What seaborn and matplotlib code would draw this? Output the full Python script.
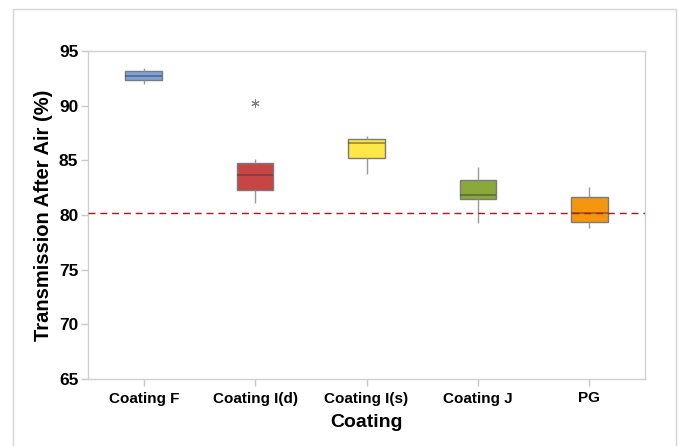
import numpy as np
import pandas as pd
import seaborn as sns
import matplotlib.pyplot as plt
from matplotlib.patches import Rectangle

# Measured transmission after air exposure (%) for each coating
categories = ["Coating F", "Coating I(d)", "Coating I(s)", "Coating J", "PG"]
coating_f = [91.98, 92.37, 92.74, 93.17, 93.44]
coating_id = [81.12, 81.70, 82.26, 82.95, 83.63, 84.20, 84.78, 85.09, 90.27]
coating_is = [83.75, 85.21, 86.56, 86.92, 87.20]
coating_j = [79.29, 81.49, 81.83, 83.17, 84.41]
pg = [78.83, 79.33, 80.15, 81.61, 82.53]
reference_level = 80.2
y_ticks = [65, 70, 75, 80, 85, 90, 95]

box_colors = ["#7BA3DA", "#C84545", "#FFE845", "#8BA83A", "#F5960F"]

series = [coating_f, coating_id, coating_is, coating_j, pg]
df = pd.DataFrame({
    "Coating": [c for c, vals in zip(categories, series) for _ in vals],
    "Transmission": [v for vals in series for v in vals],
})

sns.set_style("white")
plt.rcParams["font.family"] = ["Liberation Sans", "DejaVu Sans"]
plt.rcParams["text.color"] = "black"
plt.rcParams["axes.labelcolor"] = "black"
plt.rcParams["xtick.color"] = "black"
plt.rcParams["ytick.color"] = "black"

fig = plt.figure(figsize=(6.78, 4.46), dpi=100)
ax = fig.add_axes([88 / 678, 1 - 379 / 446, (645 - 88) / 678, (379 - 51) / 446])

sns.boxplot(
    data=df, x="Coating", y="Transmission", hue="Coating",
    order=categories, hue_order=categories, palette=box_colors, saturation=1,
    width=0.33, dodge=False, legend=False, whis=1.5, showcaps=False,
    linewidth=1.0, linecolor="#7A7A7A",
    boxprops=dict(edgecolor="#7A7A7A"),
    whiskerprops=dict(color="#9A9A9A", linewidth=1.0),
    medianprops=dict(color="#3A3A3A", alpha=0.55, linewidth=1.2),
    flierprops=dict(marker=(6, 2, 0), markersize=6, markeredgecolor="#808080",
                    markerfacecolor="none", markeredgewidth=0.7),
    ax=ax,
)

ax.axhline(reference_level, color="#C41010", linestyle=(0, (5, 3.5)), linewidth=1.0, zorder=3)

ax.set_ylim(65, 95)
ax.set_xlim(-0.5, 4.5)
ax.set_yticks(y_ticks)
ax.set_yticklabels([str(t) for t in y_ticks], fontsize=12.5, fontweight="bold")
ax.set_xticks(range(len(categories)))
ax.set_xticklabels(categories, fontsize=11, fontweight="bold")
ax.tick_params(axis="both", direction="out", length=5, width=1, color="#C8C8C8",
               labelcolor="black", pad=2, left=True, bottom=True)
ax.tick_params(axis="x", pad=4)

ax.set_xlabel("Coating", fontsize=14, fontweight="bold", labelpad=6)
ax.set_ylabel("Transmission After Air (%)", fontsize=14.5, fontweight="bold", labelpad=4)

for side in ["left", "right", "top", "bottom"]:
    ax.spines[side].set_visible(True)
    ax.spines[side].set_color("#D0D0D0")
    ax.spines[side].set_linewidth(1.0)

# Outer frame around the chart area
fig.add_artist(Rectangle((13 / 678, -0.05), (676 - 13) / 678, 1 - 9 / 446 + 0.05,
                         transform=fig.transFigure, fill=False,
                         edgecolor="#D4D4D4", linewidth=1.0))

fig.savefig("out.png", dpi=100)
